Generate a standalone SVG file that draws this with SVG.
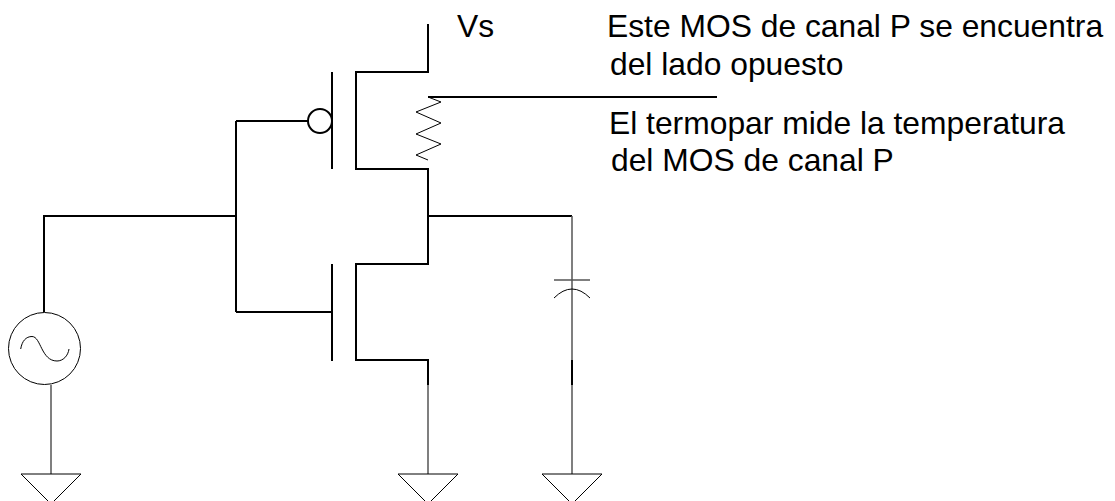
<svg xmlns="http://www.w3.org/2000/svg" width="1115" height="501" viewBox="0 0 1115 501">
<style>
.w{fill:none;stroke:#000;stroke-width:2}
.t{fill:none;stroke:#000;stroke-width:1}
.g{fill:none;stroke:#555;stroke-width:1.5}
text{font-family:"Liberation Sans",Arial,sans-serif;font-size:31.8px;fill:#000}
</style>
<rect width="1115" height="501" fill="#fff"/>
<g id="connectors">
<path class="w" d="M44 312V216H236M236 121V312M236 121H308M236 312H332"/>
<path class="w" d="M428 24V72H356V169H428V264H356V360H428V385"/>
<path class="w" d="M428 216H572"/>
<path class="g" d="M572 216V360M572 385V474M428 385V474M51 385V474"/>
<path class="w" d="M572 360V385"/>
<path class="w" d="M428 97H717"/>
</g>
<g id="pmos">
<path class="w" d="M332 72V169"/>
<circle class="w" cx="320" cy="121" r="12"/>
</g>
<g id="nmos"><path class="w" d="M332 264V361"/></g>
<g id="thermocouple"><path class="t" d="M428 97L441 102L416 112L441 123L416 134L441 144L416 155L428 160"/></g>
<g id="source">
<circle class="t" cx="44.5" cy="348.5" r="36"/>
<path class="t" d="M20.700 349C22 341 26 336.500 32 336.500C41 336.500 41 361 57 361C63 361 68 356 69 349"/>
</g>
<g id="capacitor">
<path class="g" d="M554 280H590"/>
<path class="t" d="M554 298Q572 280 590 298"/>
</g>
<g id="ground1"><path class="t" d="M21 474H81L51 504Z"/></g>
<g id="ground2"><path class="t" d="M398 474H458L428 504Z"/></g>
<g id="ground3"><path class="t" d="M542 474H602L572 504Z"/></g>
<g id="labels">
<text x="457" y="37">Vs</text>
<text x="607" y="37">Este MOS de canal P se encuentra</text>
<text x="610" y="75">del lado opuesto</text>
<text x="609" y="134">El termopar mide la temperatura</text>
<text x="611" y="171">del MOS de canal P</text>
</g>
</svg>
